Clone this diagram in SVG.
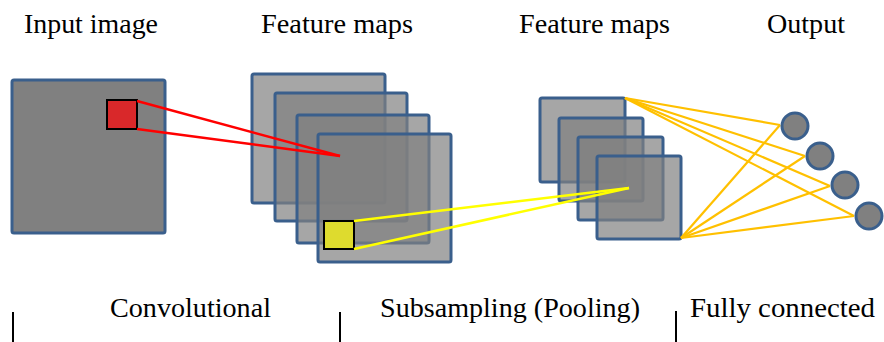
<svg xmlns="http://www.w3.org/2000/svg" width="884" height="342" viewBox="0 0 884 342">
<style>
.lbl{font-family:"Liberation Serif","Times New Roman",serif;font-size:28px;fill:#000}
.map{fill:#808080;fill-opacity:0.7;stroke:#3a5f8c;stroke-width:3}
.img{fill:#808080;stroke:#3a5f8c;stroke-width:3}
.node{fill:#808080;stroke:#3a5f8c;stroke-width:3}
.red{stroke:#ff0000;stroke-width:2.5;fill:none}
.yel{stroke:#ffff00;stroke-width:2.5;fill:none}
.org{stroke:#ffc000;stroke-width:2.2;fill:none}
.bar{stroke:#000;stroke-width:2}
</style>
<rect width="884" height="342" fill="#fff"/>
<g id="labels">
<text class="lbl" x="24" y="33" textLength="134" lengthAdjust="spacingAndGlyphs">Input image</text>
<text class="lbl" x="261" y="33" textLength="152" lengthAdjust="spacingAndGlyphs">Feature maps</text>
<text class="lbl" x="519" y="33" textLength="151" lengthAdjust="spacingAndGlyphs">Feature maps</text>
<text class="lbl" x="767" y="33" textLength="78" lengthAdjust="spacingAndGlyphs">Output</text>
<text class="lbl" x="110" y="317" textLength="161" lengthAdjust="spacingAndGlyphs">Convolutional</text>
<text class="lbl" x="380" y="317" textLength="260" lengthAdjust="spacingAndGlyphs">Subsampling (Pooling)</text>
<text class="lbl" x="690" y="317" textLength="185" lengthAdjust="spacingAndGlyphs">Fully connected</text>
<line class="bar" x1="13" y1="312" x2="13" y2="342"/>
<line class="bar" x1="340" y1="312" x2="340" y2="342"/>
<line class="bar" x1="676" y1="311" x2="676" y2="342"/>
</g>
<g id="input-image">
<rect class="img" x="12" y="80" width="153" height="153" rx="2"/>
<rect x="107" y="100" width="30" height="29" fill="#d9282a" stroke="#000" stroke-width="2"/>
</g>
<g id="feature-maps-1">
<rect class="map" x="252" y="74" width="133" height="129" rx="2"/>
<rect class="map" x="275" y="93" width="132" height="128" rx="2"/>
<rect class="map" x="297" y="115" width="132" height="128" rx="2"/>
<rect class="map" x="318" y="134" width="133" height="128" rx="2"/>
<rect x="324" y="221" width="30" height="28" fill="#dedb2e" stroke="#000" stroke-width="2"/>
</g>
<g id="feature-maps-2">
<rect class="map" x="540" y="98" width="85" height="84" rx="2"/>
<rect class="map" x="559" y="118" width="84" height="83" rx="2"/>
<rect class="map" x="578" y="137" width="85" height="83" rx="2"/>
<rect class="map" x="597" y="156" width="84" height="83" rx="2"/>
</g>
<g id="connectors">
<line class="red" x1="137" y1="101" x2="340" y2="156"/>
<line class="red" x1="137" y1="129" x2="340" y2="156"/>
<line class="yel" x1="354" y1="221" x2="629" y2="188"/>
<line class="yel" x1="354" y1="249" x2="629" y2="188"/>
<line class="org" x1="625" y1="98" x2="780" y2="125"/>
<line class="org" x1="625" y1="98" x2="805" y2="156"/>
<line class="org" x1="625" y1="98" x2="830" y2="186"/>
<line class="org" x1="625" y1="98" x2="854" y2="216"/>
<line class="org" x1="681" y1="238" x2="780" y2="125"/>
<line class="org" x1="681" y1="238" x2="805" y2="156"/>
<line class="org" x1="681" y1="238" x2="830" y2="186"/>
<line class="org" x1="681" y1="238" x2="854" y2="216"/>
</g>
<g id="output-1"><circle class="node" cx="795" cy="126" r="13"/></g>
<g id="output-2"><circle class="node" cx="820" cy="156" r="13"/></g>
<g id="output-3"><circle class="node" cx="845" cy="185" r="13"/></g>
<g id="output-4"><circle class="node" cx="869" cy="216" r="13"/></g>
</svg>
